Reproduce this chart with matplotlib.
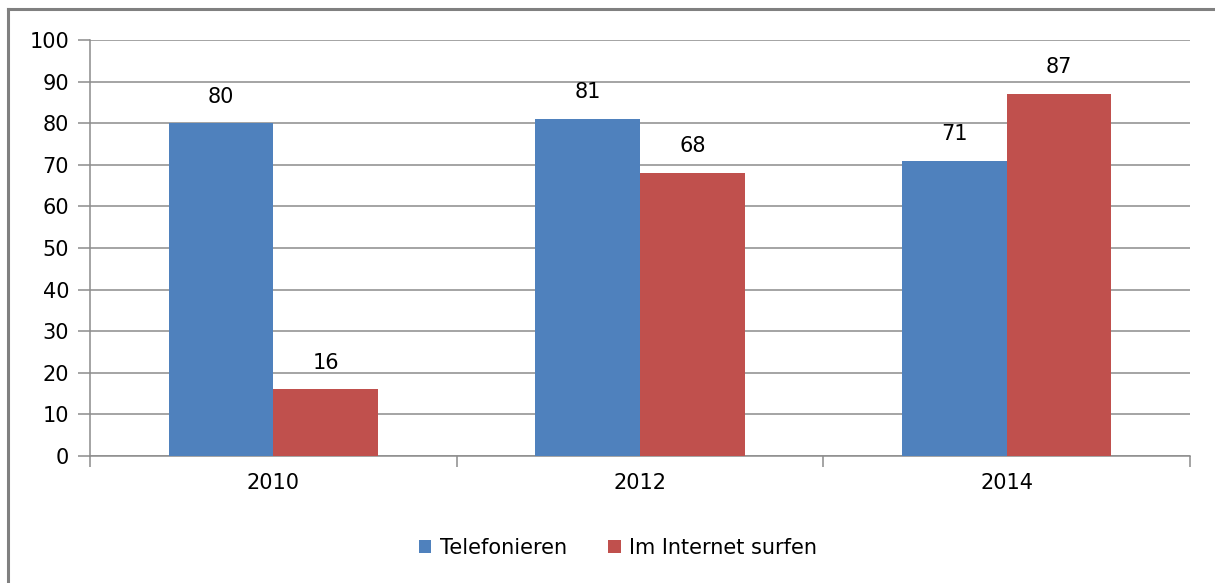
import matplotlib
matplotlib.use("Agg")
import numpy as np
from matplotlib import pyplot as plt
from matplotlib.lines import Line2D

years = ["2010", "2012", "2014"]
telefonieren = [80, 81, 71]
internet = [16, 68, 87]
series_names = ["Telefonieren", "Im Internet surfen"]
colors = ["#4F81BD", "#C0504D"]
yticks = list(range(0, 101, 10))

plt.rcParams["font.family"] = ["DejaVu Sans"]
fig = plt.figure(figsize=(12.15, 5.83), dpi=100)
ax = fig.add_axes([90 / 1215, 1 - 456 / 583, 1100 / 1215, 416 / 583])

x = np.arange(len(years))
w = 1 / 3.5
for i, (vals, name, c) in enumerate(zip([telefonieren, internet], series_names, colors)):
    pos = x + (i - 0.5) * w
    ax.bar(pos, vals, width=w, color=c, label=name, zorder=3)
    for p, v in zip(pos, vals):
        ax.annotate(str(v), (p, v), xytext=(0, 12), textcoords="offset points",
                    ha="center", va="bottom", fontsize=15, color="black")

ax.set_xlim(-0.5, len(years) - 0.5)
ax.set_ylim(0, 100)
ax.set_yticks(yticks)
ax.set_xticks(x)
ax.set_xticklabels(years)
ax.set_xticks(np.arange(-0.5, len(years), 1), minor=True)
ax.tick_params(axis="x", which="major", length=0, labelsize=15, pad=12)
ax.tick_params(axis="x", which="minor", length=8, color="#8c8c8c", width=1.1)
ax.tick_params(axis="y", length=9, color="#8c8c8c", width=1.1, labelsize=15, pad=6)
ax.yaxis.grid(True, color="#8c8c8c", linewidth=1.1, zorder=0)
for s in ["top", "right"]:
    ax.spines[s].set_visible(False)
for s in ["left", "bottom"]:
    ax.spines[s].set_color("#8c8c8c")
    ax.spines[s].set_linewidth(1.1)

fig.legend(loc="center", bbox_to_anchor=(618 / 1215, 1 - 548 / 583), ncol=2,
           frameon=False, fontsize=15, handlelength=0.6, handleheight=0.6,
           handletextpad=0.4, columnspacing=2.0)

# outer chart border
fig.add_artist(Line2D([8 / 1215, 8 / 1215], [0, 1 - 9 / 583], color="#808080", lw=2.2))
fig.add_artist(Line2D([8 / 1215, 1], [1 - 9 / 583, 1 - 9 / 583], color="#808080", lw=2.2))

fig.savefig("out.png", dpi=100)
